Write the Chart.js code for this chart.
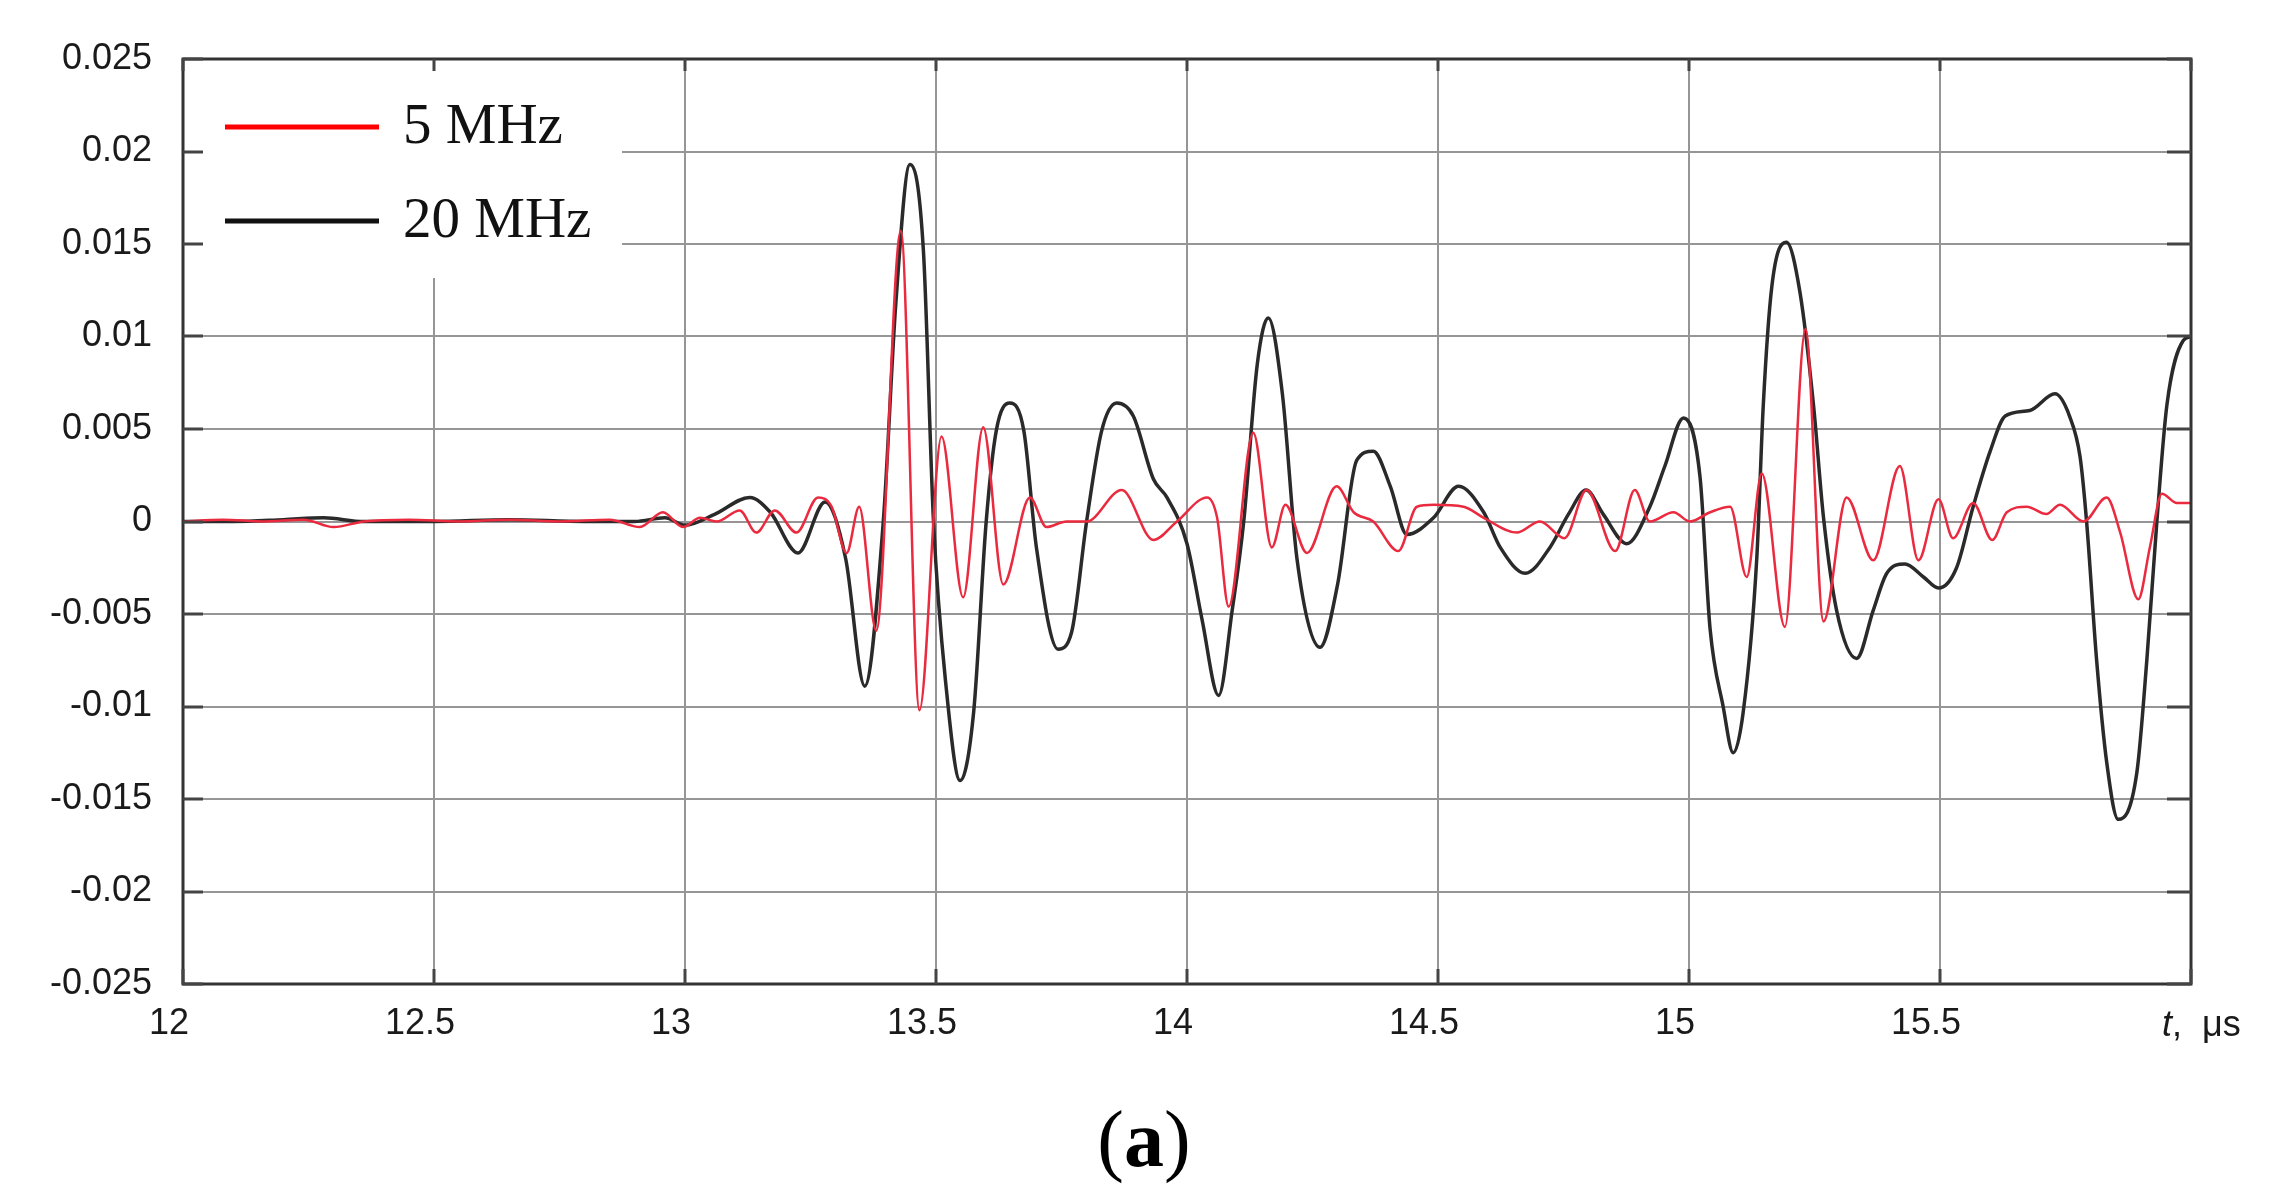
<!DOCTYPE html>
<html>
<head>
<meta charset="utf-8">
<title>Waveforms 5 MHz / 20 MHz</title>
<script src="https://cdn.jsdelivr.net/npm/chart.js@4.4.0/dist/chart.umd.min.js"></script>
<style>
  html, body { margin: 0; padding: 0; background: #fff; }
  canvas { display: block; }
</style>
</head>
<body>
<canvas id="chart-waveform" width="2295" height="1198"></canvas>
<script>
// axis ticks
const xTicks = [12, 12.5, 13, 13.5, 14, 14.5, 15, 15.5, 16];
const xTickLabels = ['12', '12.5', '13', '13.5', '14', '14.5', '15', '15.5', ''];
const yTicks = [-0.025, -0.02, -0.015, -0.01, -0.005, 0, 0.005, 0.01, 0.015, 0.02, 0.025];
const yTickLabels = ['-0.025', '-0.02', '-0.015', '-0.01', '-0.005', '0', '0.005', '0.01', '0.015', '0.02', '0.025'];

const seriesNames = ['5 MHz', '20 MHz'];

// 5 MHz trace (red), t in us
const t5 = [12.00, 12.08, 12.16, 12.24, 12.30, 12.36, 12.45, 12.55, 12.65, 12.75, 12.85, 12.91, 12.956, 12.996,
  13.03, 13.063, 13.109, 13.142, 13.179, 13.222, 13.265, 13.292, 13.322, 13.347, 13.381, 13.43, 13.467, 13.511,
  13.554, 13.594, 13.634, 13.687, 13.72, 13.76, 13.80, 13.87, 13.933, 13.98, 14.04, 14.06, 14.083, 14.132, 14.169,
  14.196, 14.239, 14.298, 14.332, 14.371, 14.421, 14.458, 14.491, 14.551, 14.591, 14.657, 14.703, 14.752, 14.796,
  14.853, 14.892, 14.922, 14.969, 15.002, 15.042, 15.082, 15.115, 15.145, 15.191, 15.232, 15.268, 15.314, 15.367,
  15.42, 15.457, 15.497, 15.526, 15.566, 15.604, 15.633, 15.673, 15.712, 15.739, 15.786, 15.832, 15.859, 15.895,
  15.918, 15.942, 15.972, 16.0];
const v5 = [0, 0.0001, 0, 0.0001, -0.0003, 0, 0.0001, 0, 0.0001, 0, 0.0001, -0.0003, 0.0005, -0.0003,
  0.0002, 0, 0.0006, -0.0006, 0.0006, -0.0006, 0.0013, 0.0008, -0.0017, 0.0008, -0.0059, 0.0157, -0.0102, 0.0046,
  -0.0041, 0.0051, -0.0034, 0.0013, -0.0003, 0, 0, 0.0017, -0.001, 0, 0.0013, 0.0002, -0.0046, 0.0048, -0.0014,
  0.0009, -0.0017, 0.0019, 0.0005, 0, -0.0016, 0.0008, 0.0009, 0.0008, 0.0002, -0.0006, 0, -0.0009, 0.0017,
  -0.0016, 0.0017, 0, 0.0005, 0, 0.0005, 0.0008, -0.003, 0.0026, -0.0057, 0.0104, -0.0054, 0.0013, -0.0021,
  0.003, -0.0021, 0.0012, -0.0009, 0.001, -0.001, 0.0005, 0.0008, 0.0004, 0.0009, 0, 0.0013, -0.0006, -0.0042,
  -0.0014, 0.0015, 0.001, 0.001];

// 20 MHz trace (black)
const t20 = [12.00, 12.1, 12.2, 12.28, 12.36, 12.5, 12.65, 12.8, 12.9, 12.96, 13.0, 13.06, 13.129, 13.17, 13.225,
  13.279, 13.32, 13.358, 13.395, 13.42, 13.448, 13.475, 13.495, 13.52, 13.548, 13.575, 13.60, 13.62, 13.647,
  13.675, 13.70, 13.743, 13.77, 13.80, 13.83, 13.86, 13.893, 13.933, 13.96, 14.0, 14.03, 14.063, 14.09, 14.113,
  14.14, 14.162, 14.19, 14.219, 14.265, 14.30, 14.338, 14.371, 14.405, 14.438, 14.491, 14.541, 14.591, 14.624,
  14.674, 14.723, 14.76, 14.795, 14.829, 14.876, 14.922, 14.952, 14.989, 15.022, 15.042, 15.068, 15.088, 15.108,
  15.135, 15.148, 15.165, 15.194, 15.221, 15.248, 15.268, 15.294, 15.334, 15.367, 15.394, 15.43, 15.467, 15.497,
  15.533, 15.566, 15.60, 15.63, 15.679, 15.729, 15.758, 15.779, 15.792, 15.812, 15.832, 15.855, 15.892, 15.912,
  15.932, 15.952, 15.985, 16.0];
const v20 = [0, 0, 0.0001, 0.0002, 0, 0, 0.0001, 0, 0, 0.0002, -0.0002, 0.0004, 0.0013, 0.0005, -0.0017,
  0.00105, -0.002, -0.0089, 0, 0.0118, 0.0193, 0.0146, 0, -0.0089, -0.014, -0.0103, 0, 0.0049, 0.0064,
  0.0049, -0.0014, -0.0069, -0.006, 0, 0.0049, 0.0064, 0.0057, 0.0023, 0.0013, -0.0012, -0.0053, -0.0094, -0.0048, 0,
  0.0085, 0.011, 0.0069, -0.002, -0.0068, -0.0034, 0.0033, 0.0038, 0.0019, -0.0007, 0.0002, 0.0019, 0.0005, -0.0014,
  -0.0028, -0.0014, 0.0004, 0.0017, 0.0004, -0.0012, 0.0008, 0.003, 0.0056, 0.0024, -0.0058, -0.0100, -0.0125, -0.0103,
  -0.002, 0.0063, 0.0127, 0.0151, 0.0124, 0.0063, 0.0002, -0.0048, -0.0074, -0.0048, -0.0028, -0.0023, -0.003, -0.0036,
  -0.0025, 0.0008, 0.0038, 0.0057, 0.006, 0.0069, 0.0057, 0.0035, 0, -0.0075, -0.013, -0.0161, -0.0136, -0.0075,
  0, 0.0063, 0.0098, 0.01];

const toPoints = (ts, vs) => ts.map((t, i) => ({ x: t, y: vs[i] }));

const tickFont = { family: '"Liberation Sans", Arial, sans-serif', size: 36 };
const gridColor = '#969696';

// legend box, frame with inward ticks, axis label and caption
const decorPlugin = {
  id: 'decor',
  afterDatasetsDraw(chart) {
    const ctx = chart.ctx;
    const a = chart.chartArea;
    const xs = chart.scales.x, ys = chart.scales.y;
    ctx.save();

    // legend
    ctx.fillStyle = '#fff';
    ctx.fillRect(a.left, a.top, 439, 219);
    const legendColors = ['#ff0000', '#111111'];
    const legendY = [68, 162];
    const textY = [84, 178];
    ctx.lineWidth = 5;
    ctx.font = '57px "Liberation Serif", "Times New Roman", serif';
    ctx.textBaseline = 'alphabetic';
    ctx.textAlign = 'left';
    seriesNames.forEach((name, i) => {
      ctx.strokeStyle = legendColors[i];
      ctx.beginPath();
      ctx.moveTo(a.left + 42, a.top + legendY[i]);
      ctx.lineTo(a.left + 196, a.top + legendY[i]);
      ctx.stroke();
      ctx.fillStyle = '#111';
      ctx.fillText(name, a.left + 220, a.top + textY[i]);
    });

    // frame
    ctx.strokeStyle = '#333';
    ctx.lineWidth = 3;
    ctx.strokeRect(a.left, a.top, a.right - a.left, a.bottom - a.top);
    ctx.strokeStyle = '#444';
    ctx.beginPath();
    yTicks.forEach(v => {
      const y = Math.round(ys.getPixelForValue(v));
      ctx.moveTo(a.left, y); ctx.lineTo(a.left + 20, y);
      ctx.moveTo(a.right - 24, y); ctx.lineTo(a.right, y);
    });
    xTicks.forEach(v => {
      const x = Math.round(xs.getPixelForValue(v));
      ctx.moveTo(x, a.top); ctx.lineTo(x, a.top + 12);
      ctx.moveTo(x, a.bottom - 15); ctx.lineTo(x, a.bottom);
    });
    ctx.stroke();

    // axis name "t, μs"
    ctx.fillStyle = '#1a1a1a';
    ctx.font = 'italic 36px "Liberation Sans", Arial, sans-serif';
    ctx.fillText('t', a.right - 29, 1036);
    const tw = ctx.measureText('t').width;
    ctx.font = '36px "Liberation Sans", Arial, sans-serif';
    ctx.fillText(',  μs', a.right - 29 + tw, 1036);

    // caption (a)
    const serif = '"Liberation Serif", "Times New Roman", serif';
    ctx.font = '80px ' + serif;
    const pw = ctx.measureText('(').width;
    const pw2 = ctx.measureText(')').width;
    ctx.font = 'bold 80px ' + serif;
    const aw = ctx.measureText('a').width;
    let cx = 1144 - (pw + aw + pw2) / 2;
    ctx.fillStyle = '#000';
    ctx.font = '80px ' + serif;
    ctx.fillText('(', cx, 1166);
    ctx.font = 'bold 80px ' + serif;
    ctx.fillText('a', cx + pw, 1166);
    ctx.font = '80px ' + serif;
    ctx.fillText(')', cx + pw + aw, 1166);
    ctx.restore();
  }
};

const ctx = document.getElementById('chart-waveform').getContext('2d');
const waveChart = new Chart(ctx, {
  type: 'line',
  data: {
    datasets: [
      {
        label: seriesNames[0],
        data: toPoints(t5, v5),
        borderColor: '#ea2a3e',
        borderWidth: 2.5,
        cubicInterpolationMode: 'monotone'
      },
      {
        label: seriesNames[1],
        data: toPoints(t20, v20),
        borderColor: '#2a2a2a',
        borderWidth: 3.5,
        cubicInterpolationMode: 'monotone'
      }
    ]
  },
  options: {
    responsive: false,
    animation: false,
    devicePixelRatio: 1,
    layout: { padding: { top: 59, right: 104, left: 0, bottom: 0 } },
    elements: { point: { radius: 0 } },
    plugins: { legend: { display: false }, tooltip: { enabled: false } },
    scales: {
      x: {
        type: 'linear',
        min: 12,
        max: 16,
        afterBuildTicks: axis => { axis.ticks = xTicks.map(v => ({ value: v })); },
        afterFit: axis => { axis.height = 214; },
        grid: { color: gridColor, lineWidth: 2, drawTicks: false },
        border: { display: false },
        ticks: {
          padding: 18,
          labelOffset: -14,
          maxRotation: 0,
          autoSkip: false,
          color: '#1a1a1a',
          font: tickFont,
          callback: value => xTickLabels[xTicks.indexOf(value)]
        }
      },
      y: {
        type: 'linear',
        min: -0.025,
        max: 0.025,
        afterBuildTicks: axis => { axis.ticks = yTicks.map(v => ({ value: v })); },
        afterFit: axis => { axis.width = 183; },
        grid: { color: gridColor, lineWidth: 2, drawTicks: false },
        border: { display: false },
        ticks: {
          padding: 31,
          autoSkip: false,
          color: '#1a1a1a',
          font: tickFont,
          callback: value => yTickLabels[yTicks.indexOf(value)]
        }
      }
    }
  },
  plugins: [decorPlugin]
});
</script>
</body>
</html>
